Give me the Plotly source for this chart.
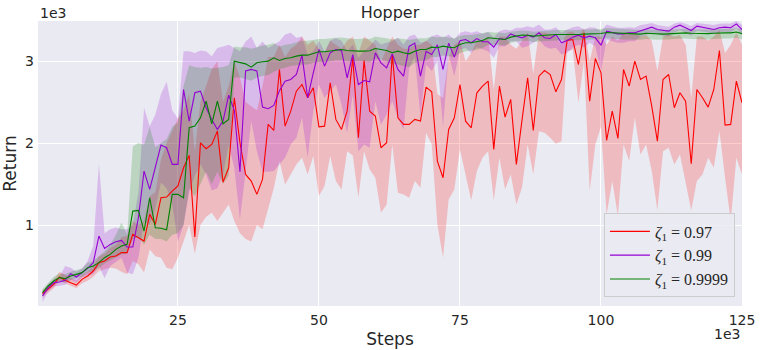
import plotly.graph_objects as go

# training steps (one point every 1e3 steps)
steps = list(range(1000, 126000, 1000))

# zeta_1 = 0.97
red_mean = [163, 215, 276, 366, 325, 297, 268, 337, 378, 439,
            541, 561, 610, 622, 663, 663, 886, 846, 805, 1130,
            1008, 1333, 1341, 1415, 1476, 1699, 1850, 854, 2004, 1931,
            1984, 2146, 1524, 1699, 2553, 2004, 1618, 1537, 1374, 1557,
            2228, 2154, 2898, 2207, 2390, 2634, 2715, 2553, 2675, 2199,
            2207, 2736, 2289, 2167, 2390, 3041, 2065, 3008, 2390, 2329,
            1943, 2004, 3081, 2309, 2228, 2228, 2289, 2268, 2683, 2626,
            1780, 1577, 2167, 2309, 2715, 2268, 2187, 2614, 2695, 2756,
            1923, 2695, 2317, 2533, 1740, 2280, 2797, 2154, 2817, 2886,
            2837, 2626, 2776, 3252, 3264, 2959, 3346, 2512, 3033, 2858,
            2033, 2390, 2057, 2898, 2695, 3000, 2776, 2817, 2451, 2024,
            2776, 2837, 2431, 2614, 2512, 1748, 2654, 2553, 2439, 2654,
            3130, 2220, 2228, 2756, 2492]
red_low = [120, 170, 230, 320, 290, 260, 230, 290, 320, 370,
           440, 460, 480, 470, 430, 400, 560, 520, 420, 700,
           620, 600, 480, 460, 600, 800, 1000, 650, 1000, 1100,
           1150, 1050, 1150, 1250, 1050, 900, 830, 800, 1000, 950,
           1200, 1450, 1780, 1496, 1618, 1740, 1821, 1618, 1842, 1354,
           1476, 1842, 1537, 1435, 1902, 1850, 1333, 1902, 1679, 1577,
           1150, 1252, 1984, 1394, 1374, 1333, 1537, 1455, 2126, 1984,
           1008, 602, 1313, 1435, 1923, 1618, 1301, 1659, 1821, 1902,
           1301, 1821, 1435, 1618, 1252, 1455, 1984, 1618, 2146, 2126,
           2065, 1992, 2024, 3122, 3142, 2492, 3000, 1415, 1984, 2200,
           1130, 1537, 1110, 1984, 1780, 2309, 1862, 1984, 1659, 1179,
           1902, 1943, 1740, 1862, 1537, 1179, 1537, 1618, 1821, 1699,
           2146, 1577, 1049, 1821, 1618]
red_up = [200, 260, 330, 430, 390, 350, 320, 390, 430, 500,
          620, 650, 720, 760, 850, 870, 1050, 1000, 1050, 1350,
          1400, 1800, 2000, 2150, 2300, 2400, 2600, 1900, 2500, 2700,
          2900, 3000, 2500, 2700, 3000, 2800, 2500, 2450, 2400, 2700,
          3050, 3050, 3200, 3050, 3150, 3200, 3300, 3200, 3250, 3150,
          3100, 3250, 3200, 3150, 3250, 3300, 3100, 3300, 3250, 3200,
          3000, 3150, 3300, 3200, 3150, 3150, 3200, 3200, 3250, 3200,
          2600, 2550, 3050, 3200, 3250, 3000, 3100, 3250, 3250, 3300,
          2650, 3300, 3300, 3200, 3150, 3250, 3350, 2850, 3350, 3350,
          3330, 3300, 3200, 3350, 3360, 3300, 3400, 3000, 3300, 3300,
          3200, 3300, 3250, 3350, 3350, 3350, 3300, 3320, 3250, 2880,
          3300, 3330, 3300, 3320, 3200, 2550, 3300, 3300, 3250, 3300,
          3380, 3100, 3200, 3350, 3200]

# zeta_1 = 0.99
purple_mean = [134, 236, 297, 305, 325, 407, 366, 419, 472, 541,
               866, 715, 764, 797, 813, 732, 732, 1089, 1659, 1435,
               1700, 1976, 1943, 1740, 1740, 2654, 2268, 2614, 2634, 2431,
               2289, 2167, 2268, 2585, 2400, 1650, 2880, 2900, 2880, 2440,
               2420, 2460, 2640, 2756, 2776, 2837, 3073, 2553, 2858, 3142,
               2939, 3102, 3142, 3130, 2797, 3081, 2715, 2764, 2748, 3102,
               2980, 2919, 3089, 2900, 2817, 3180, 3220, 2817, 3120, 3080,
               3200, 2898, 3220, 3050, 3250, 3264, 3224, 3276, 3236, 3236,
               3171, 3276, 3264, 3333, 3305, 3285, 3317, 3293, 3346, 3285,
               3276, 3325, 3224, 3252, 3293, 3317, 3285, 3305, 3285, 3195,
               3366, 3346, 3333, 3333, 3346, 3346, 3366, 3386, 3415, 3386,
               3374, 3366, 3415, 3439, 3407, 3374, 3427, 3415, 3407, 3386,
               3407, 3415, 3407, 3455, 3386]
purple_low = [60, 190, 250, 260, 270, 330, 300, 360, 390, 400,
              500, 350, 500, 550, 600, 420, 400, 600, 1050, 1000,
              1200, 1520, 1450, 1250, 800, 1000, 1400, 1600, 1740, 1620,
              1420, 1450, 1620, 1980, 1700, 1070, 1650, 2270, 1900, 1650,
              1650, 1660, 1740, 1821, 1984, 2065, 2309, 1821, 2390, 2715,
              2553, 2634, 2715, 2472, 2126, 2593, 1902, 1984, 1943, 2512,
              2228, 2350, 2512, 2309, 2167, 2919, 3050, 2329, 2959, 2880,
              3000, 2200, 3080, 2817, 3142, 3160, 3100, 3170, 3142, 3120,
              3041, 3180, 3180, 3244, 3244, 3163, 3183, 3224, 3264, 3183,
              3150, 3163, 3081, 3102, 3163, 3203, 3163, 3224, 3183, 2878,
              3264, 3244, 3224, 3224, 3244, 3244, 3300, 3320, 3350, 3330,
              3310, 3300, 3350, 3380, 3350, 3310, 3370, 3360, 3350, 3330,
              3350, 3360, 3350, 3400, 3320]
purple_up = [180, 280, 340, 360, 500, 480, 430, 470, 560, 750,
             1750, 900, 950, 970, 950, 950, 1000, 1400, 2430, 2207,
             2350, 2600, 2748, 2400, 2300, 3120, 3120, 3100, 3130, 3120,
             3060, 3160, 3180, 3200, 3160, 3120, 3240, 3300, 3160, 3240,
             3160, 3200, 3244, 3325, 3346, 3285, 3300, 3081, 3122, 3250,
             3122, 3250, 3280, 3250, 3122, 3203, 3041, 3122, 3183, 3264,
             3203, 3224, 3244, 3285, 3203, 3305, 3325, 3224, 3244, 3305,
             3325, 3285, 3325, 3264, 3346, 3366, 3346, 3366, 3333, 3356,
             3285, 3366, 3386, 3374, 3407, 3407, 3427, 3407, 3447, 3386,
             3386, 3415, 3346, 3386, 3415, 3427, 3386, 3415, 3407, 3366,
             3447, 3427, 3407, 3407, 3415, 3407, 3440, 3450, 3465, 3440,
             3430, 3420, 3460, 3475, 3455, 3430, 3465, 3460, 3450, 3440,
             3455, 3460, 3460, 3490, 3440]

# zeta_1 = 0.9999
green_mean = [175, 256, 317, 358, 346, 378, 398, 419, 480, 500,
              541, 602, 642, 703, 744, 764, 1170, 1179, 927, 1333,
              967, 960, 943, 1374, 1374, 1333, 2187, 2207, 2309, 2512,
              2236, 2512, 2236, 2289, 3000, 2988, 2967, 2927, 2980, 2992,
              3000, 3041, 3008, 3033, 3041, 3061, 3073, 3073, 3089, 3114,
              3114, 3122, 3134, 3142, 3130, 3122, 3122, 3122, 3126, 3154,
              3146, 3130, 3102, 3122, 3102, 3089, 3122, 3142, 3142, 3171,
              3163, 3183, 3171, 3163, 3203, 3224, 3224, 3236, 3252, 3285,
              3276, 3276, 3264, 3293, 3305, 3320, 3317, 3305, 3310, 3317,
              3320, 3325, 3325, 3322, 3325, 3325, 3330, 3330, 3333, 3338,
              3350, 3346, 3340, 3336, 3333, 3330, 3330, 3340, 3336, 3330,
              3330, 3333, 3340, 3345, 3345, 3340, 3336, 3336, 3336, 3340,
              3345, 3345, 3345, 3355, 3336]
green_low = [130, 210, 270, 310, 300, 330, 350, 370, 420, 440,
             470, 530, 560, 600, 640, 650, 830, 850, 760, 880,
             830, 830, 800, 880, 900, 1000, 1450, 1350, 1500, 1650,
             1500, 1650, 1500, 1600, 2800, 2800, 2780, 2760, 2800, 2820,
             2830, 2870, 2900, 2920, 2940, 2950, 2960, 2960, 2980, 2990,
             2990, 3000, 3010, 3010, 3000, 3000, 3000, 3000, 2990, 3030,
             3020, 3000, 2960, 2960, 2940, 2930, 2980, 3000, 3010, 3050,
             3050, 3070, 3060, 3050, 3100, 3120, 3130, 3140, 3160, 3200,
             3200, 3200, 3190, 3220, 3240, 3250, 3250, 3235, 3240, 3245,
             3250, 3255, 3255, 3250, 3255, 3255, 3260, 3260, 3265, 3270,
             3280, 3275, 3270, 3265, 3260, 3260, 3260, 3270, 3265, 3260,
             3260, 3265, 3270, 3275, 3275, 3270, 3265, 3265, 3265, 3270,
             3275, 3275, 3275, 3285, 3265]
green_up = [220, 300, 370, 410, 400, 430, 450, 470, 540, 560,
            620, 680, 760, 880, 1030, 880, 1960, 2000, 1980, 2200,
            1950, 2000, 2050, 2200, 2250, 2700, 2950, 2930, 2920, 2930,
            2910, 2920, 2930, 2950, 3180, 3170, 3170, 3150, 3170, 3190,
            3200, 3220, 3180, 3200, 3210, 3230, 3250, 3250, 3260, 3270,
            3270, 3280, 3285, 3290, 3280, 3270, 3270, 3275, 3270, 3300,
            3290, 3280, 3260, 3280, 3270, 3260, 3270, 3280, 3280, 3300,
            3290, 3300, 3290, 3280, 3310, 3320, 3320, 3330, 3340, 3360,
            3350, 3350, 3340, 3360, 3370, 3375, 3372, 3360, 3365, 3372,
            3375, 3380, 3380, 3377, 3380, 3380, 3385, 3385, 3388, 3393,
            3405, 3400, 3395, 3390, 3388, 3385, 3380, 3390, 3386, 3380,
            3380, 3383, 3390, 3395, 3395, 3390, 3386, 3386, 3386, 3390,
            3395, 3395, 3395, 3405, 3386]

labels = ["<i>ζ</i><sub>1</sub> = 0.97", "<i>ζ</i><sub>1</sub> = 0.99", "<i>ζ</i><sub>1</sub> = 0.9999"]
colors = ["#ff0000", "#9400d3", "#008000"]
fills = ["rgba(255,0,0,0.2)", "rgba(148,0,211,0.2)", "rgba(0,128,0,0.2)"]

series = [(red_mean, red_low, red_up), (purple_mean, purple_low, purple_up), (green_mean, green_low, green_up)]

fig = go.Figure()

for (m, lo, up), c, f in zip(series, colors, fills):
    fig.add_trace(go.Scatter(x=steps + steps[::-1], y=up + lo[::-1], fill="toself",
                             fillcolor=f, line=dict(width=0), hoverinfo="skip", showlegend=False))

for (m, lo, up), c, name in zip(series, colors, labels):
    fig.add_trace(go.Scatter(x=steps, y=m, mode="lines", name=name, line=dict(color=c, width=1.1)))

txt = "#262626"
fig.update_layout(
    width=761, height=350,
    margin=dict(l=38, r=19, t=21, b=44),
    plot_bgcolor="#eaeaf2", paper_bgcolor="white",
    font=dict(family="DejaVu Sans", color=txt, size=14),
    title=dict(text="Hopper", x=0.5125, xanchor="center", y=0.965, yanchor="middle",
               font=dict(size=16, color=txt)),
    xaxis=dict(range=[200, 125000], tickvals=[25000, 50000, 75000, 100000, 125000],
               ticktext=["25", "50", "75", "100", "125"], showgrid=True, gridcolor="white",
               gridwidth=1, zeroline=False, showline=False, ticks="", ticklabelstandoff=4,
               title=dict(text="Steps", font=dict(size=17), standoff=6), automargin=False),
    yaxis=dict(range=[12, 3490], tickvals=[1000, 2000, 3000], ticktext=["1", "2", "3"],
               showgrid=True, gridcolor="white", gridwidth=1, zeroline=False, showline=False,
               ticks="", ticklabelstandoff=3,
               title=dict(text="Return", font=dict(size=17), standoff=4), automargin=False),
    legend=dict(x=0.99, y=0.03, xanchor="right", yanchor="bottom", itemwidth=40,
                bgcolor="rgba(234,234,242,0.85)", bordercolor="#cccccc", borderwidth=1,
                font=dict(family="Liberation Serif", size=16, color=txt)),
    annotations=[
        dict(text="1e3", xref="paper", yref="paper", x=0, y=1, xanchor="left", yanchor="bottom",
             showarrow=False, font=dict(size=14, color=txt), yshift=-2),
        dict(text="1e3", xref="paper", yref="paper", x=1, y=0, xanchor="right", yanchor="top",
             showarrow=False, font=dict(size=14, color=txt), yshift=-18),
    ],
)

# drop the browser's default 8px page margin so the figure sits at the top-left corner
fig.write_html("out.html", config={"displayModeBar": False},
               post_script="document.body.style.margin='0';")
